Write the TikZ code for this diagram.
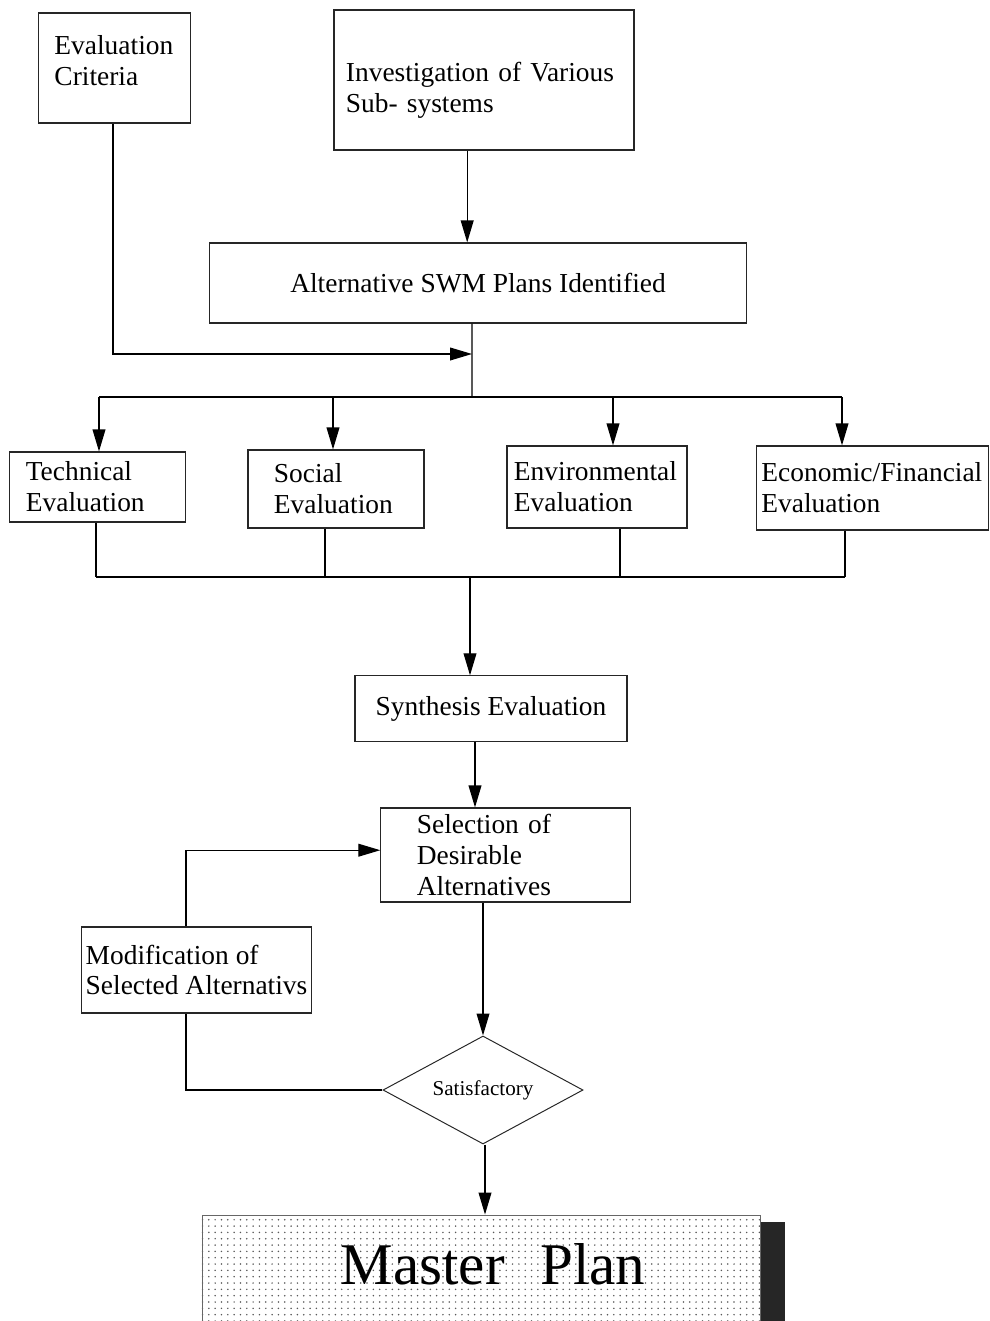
\documentclass[tikz,border=0pt]{standalone}
\usepackage{fontspec}
\setmainfont{Liberation Serif}
\usetikzlibrary{arrows.meta, shapes.geometric, patterns.meta}
\tikzset{
    box/.style={rectangle, draw=black!85, line width=0.8pt, inner sep=0pt, align=left, font=\fontsize{19.5}{22}\selectfont},
    ctrbox/.style={box, align=center},
    decision/.style={diamond, draw=black!85, line width=0.7pt, inner sep=0pt, aspect=1.85, minimum width=5cm, minimum height=2.7cm, font=\fontsize{15}{17}\selectfont},
    planbox/.style={rectangle, draw=black!60, line width=0.6pt, pattern={Dots[distance=4.5pt, radius=0.6pt]}, pattern color=black!65, inner sep=0pt, font=\fontsize{42}{46}\selectfont},
    arrow/.style={-{Triangle[length=5.5mm, width=3.2mm]}, line width=0.9pt, draw=black},
    line/.style={line width=0.9pt, draw=black}
}
\begin{document}
\begin{tikzpicture}[x=0.025cm, y=-0.025cm]
    \useasboundingbox (0,0) rectangle (989,1321);
    % top row
    \node[box, minimum width=3.78cm, minimum height=2.75cm, text width=3.0cm, text depth=1.13cm] (crit) at (114.5,68) {Evaluation\\Criteria};
    \node[box, minimum width=7.5cm, minimum height=3.5cm, text width=6.9cm, text height=1.0cm] (invest) at (484,80) {Investigation of Various\\Sub- systems};
    \node[ctrbox, minimum width=13.4cm, minimum height=2.0cm] (alt) at (478,283) {Alternative SWM Plans Identified};
    % evaluations
    \node[box, minimum width=4.38cm, minimum height=1.75cm, text width=3.58cm] (tech) at (97.5,487) {Technical\\Evaluation};
    \node[box, minimum width=4.4cm, minimum height=1.95cm, text width=3.1cm] (social) at (336,489) {Social\\Evaluation};
    \node[box, minimum width=4.5cm, minimum height=2.05cm, text width=4.15cm] (env) at (597,487) {Environmental\\Evaluation};
    \node[box, minimum width=5.78cm, minimum height=2.1cm, text width=5.55cm] (econ) at (872.5,488) {Economic/Financial\\Evaluation};
    \node[ctrbox, minimum width=6.8cm, minimum height=1.63cm] (synth) at (491,708.5) {Synthesis Evaluation};
    \node[box, minimum width=6.23cm, minimum height=2.35cm, text width=4.43cm] (select) at (505.5,855) {Selection of\\Desirable\\Alternatives};
    \node[box, minimum width=5.73cm, minimum height=2.15cm] (modif) at (196.5,970) {Modification of\\Selected Alternativs};
    \node[decision] (sat) at (483,1090) {Satisfactory};
    % master plan with shadow
    \fill[black!85] (760,1222) rectangle (785,1321);
    \node[planbox, minimum width=13.95cm, minimum height=2.75cm] (master) at (481,1270) {\raisebox{0.32cm}{\hspace*{0.6cm}Master\hspace{0.6em}Plan}};

    \coordinate (meet) at (472,354);
    \coordinate (split) at (472,397);
    \coordinate (join) at (470,577);

    \draw[arrow] ([xshift=-0.42cm]invest.south) -- ([xshift=-0.42cm]invest.south |- alt.north);
    \draw[arrow] ([xshift=-0.04cm]crit.south) |- (meet);
    \draw[line] ([xshift=-0.15cm]alt.south) -- (split);
    \draw[line] (99,397) -- (842,397);
    \foreach \n/\x in {tech/99, social/333, env/613, econ/842}
        \draw[arrow] (\x,397) -- (\x,397 |- \n.north);
    \foreach \n/\x in {tech/96, social/325, env/620, econ/845}
        \draw[line] (\x,577 |- \n.south) -- (\x,577);
    \draw[line] (96,577) -- (845,577);
    \draw[arrow] (join) -- (join |- synth.north);
    \draw[arrow] (475,741 |- synth.south) -- (475,741 |- select.north);
    \draw[arrow] (sat.north |- select.south) -- (sat.north);
    \draw[arrow] ([xshift=0.05cm]sat.south) -- ([xshift=0.05cm]sat.south |- master.north);
    % loop back
    \draw[line] (sat.west) -| ([xshift=-0.26cm]modif.south);
    \draw[arrow] ([xshift=-0.26cm]modif.north) |- ([yshift=0.12cm]select.west);
\end{tikzpicture}
\end{document}
